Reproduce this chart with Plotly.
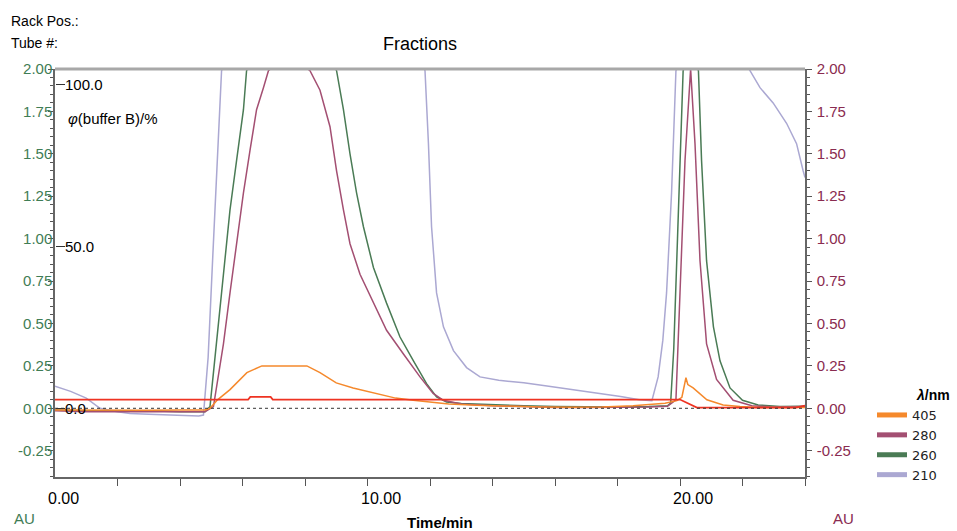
import plotly.graph_objects as go

# ---------------- data ----------------
t_405 = [0, 1, 2, 3, 4, 4.8, 4.96, 5.2, 5.6, 6.14, 6.62, 7.3, 8.06, 8.48, 9.0, 9.54,
         10.2, 10.9, 11.46, 12.0, 12.6, 13.5, 14.5, 15.5, 16.5, 17.5, 18.5, 19.0,
         19.52, 19.9, 20.06, 20.19, 20.25, 20.42, 20.86, 21.38, 21.92, 22.5, 23.2, 24]
v_405 = [-0.01, -0.012, -0.01, -0.012, -0.01, -0.01, 0.0, 0.05, 0.11, 0.21, 0.25, 0.252,
         0.25, 0.21, 0.15, 0.12, 0.09, 0.06, 0.047, 0.035, 0.025, 0.018, 0.012, 0.008,
         0.006, 0.008, 0.015, 0.022, 0.03, 0.045, 0.065, 0.18, 0.14, 0.12, 0.05, 0.02,
         0.01, 0.005, 0.003, 0.004]

t_280 = [0, 1, 2, 3, 4, 4.8, 5.07, 5.39, 5.6, 5.81, 6.03, 6.24, 6.45, 6.67, 6.83, 7.2,
         7.7, 8.16, 8.48, 8.8, 9.01, 9.23, 9.44, 9.76, 10.19, 10.61, 11.15, 11.68, 12.1,
         12.43, 13.0, 14, 15, 16, 17, 18, 19, 19.6, 19.87, 20.0, 20.16, 20.34, 20.48,
         20.64, 20.85, 21.17, 21.7, 22.3, 23, 24]
v_280 = [-0.015, -0.02, -0.02, -0.02, -0.02, -0.02, 0.01, 0.38, 0.68, 0.97, 1.27, 1.52,
         1.76, 1.89, 1.99, 2.05, 2.05, 1.99, 1.875, 1.66, 1.40, 1.17, 0.97, 0.79, 0.62,
         0.46, 0.32, 0.185, 0.088, 0.047, 0.025, 0.015, 0.01, 0.005, 0.005, 0.005, 0.008,
         0.012, 0.05, 0.68, 1.46, 2.0, 1.56, 0.87, 0.38, 0.17, 0.047, 0.015, 0.008, 0.01]

t_260 = [0, 1, 2, 3, 4, 4.8, 4.96, 5.17, 5.39, 5.6, 5.81, 6.03, 6.13, 6.5, 7.5, 8.5,
         9.01, 9.23, 9.44, 9.65, 9.87, 10.19, 10.61, 11.04, 11.47, 11.89, 12.21, 12.53,
         13.0, 14, 15, 16, 17, 18, 19, 19.6, 19.7, 19.8, 19.92, 20.02, 20.1, 20.35,
         20.59, 20.69, 20.85, 21.07, 21.28, 21.6, 22.0, 22.5, 23.2, 24]
v_260 = [-0.01, -0.015, -0.015, -0.015, -0.02, -0.02, 0.01, 0.38, 0.77, 1.17, 1.46, 1.76,
         1.99, 2.1, 2.2, 2.15, 1.99, 1.76, 1.50, 1.27, 1.07, 0.83, 0.62, 0.42, 0.28,
         0.145, 0.067, 0.037, 0.028, 0.02, 0.015, 0.01, 0.008, 0.008, 0.01, 0.015, 0.03,
         0.35, 1.0, 1.6, 1.99, 2.1, 1.99, 1.46, 0.87, 0.48, 0.28, 0.12, 0.047, 0.02,
         0.01, 0.012]

t_210 = [0, 0.5, 1.0, 1.44, 2.0, 2.4, 3.0, 3.6, 4.2, 4.6, 4.75, 4.9, 5.05, 5.2, 5.33,
         6, 8, 10, 11.5, 11.84, 11.95, 12.05, 12.21, 12.43, 12.75, 13.17, 13.6, 14.2,
         15.0, 15.8, 16.6, 17.4, 18.1, 18.7, 19.1, 19.3, 19.45, 19.57, 19.73, 19.87,
         20.5, 21.5, 22.24, 22.56, 22.98, 23.41, 23.73, 23.94, 24]
v_210 = [0.13, 0.10, 0.06, 0.0, -0.02, -0.03, -0.035, -0.04, -0.042, -0.045, -0.04, 0.3,
         0.9, 1.5, 1.99, 2.2, 2.3, 2.3, 2.2, 1.99, 1.56, 1.07, 0.68, 0.48, 0.34, 0.24,
         0.185, 0.165, 0.15, 0.13, 0.11, 0.09, 0.07, 0.05, 0.045, 0.185, 0.4, 0.68,
         1.27, 1.99, 2.2, 2.2, 1.99, 1.89, 1.80, 1.68, 1.56, 1.40, 1.36]

# buffer B fraction (%), red trace on the inner left axis
t_buf = [0, 6.18, 6.25, 6.9, 6.97, 20.0, 20.54, 23.7, 24]
v_buf = [2.7, 2.7, 3.5, 3.5, 2.7, 2.7, 0.2, 0.2, 0.8]

au_ticks = [-0.25, 0.0, 0.25, 0.5, 0.75, 1.0, 1.25, 1.5, 1.75, 2.0]
au_labels = ["-0.25", "0.00", "0.25", "0.50", "0.75", "1.00", "1.25", "1.50", "1.75", "2.00"]
buf_ticks = [0, 50, 100]
buf_labels = ["0.0", "50.0", "100.0"]
x_ticks = [0, 2, 4, 6, 8, 10, 12, 14, 16, 18, 20, 22, 24]
x_label_vals = [0, 10, 20]
x_labels = ["0.00", "10.00", "20.00"]

AU_RANGE = [-0.405, 2.0]
BUF_PER_AU = 52.36
BASELINE = 0.0

series = [
    ("210", t_210, v_210, "#aba8d2"),
    ("260", t_260, v_260, "#4a7b55"),
    ("280", t_280, v_280, "#a34f72"),
    ("405", t_405, v_405, "#f5892c"),
]
legend_order = ["405", "280", "260", "210"]
colors = {name: c for name, _, _, c in series}

FONT = "Liberation Sans, Arial, sans-serif"
GREEN = "#3f7d55"
MAROON = "#8a2b50"

fig = go.Figure()
for name, t, v, c in series:
    fig.add_trace(go.Scatter(x=t, y=v, mode="lines", name=name, showlegend=False,
                             line=dict(color=c, width=1.5), hoverinfo="skip"))
fig.add_trace(go.Scatter(x=t_buf, y=v_buf, mode="lines", name="buffer B", yaxis="y3",
                         showlegend=False, line=dict(color="#ee3322", width=1.8)))
# legend entries (thick swatches)
for name in legend_order:
    fig.add_trace(go.Scatter(x=[None], y=[None], mode="lines", name=name,
                             line=dict(color=colors[name], width=5)))

axis_common = dict(range=AU_RANGE, tickvals=au_ticks, ticktext=au_labels,
                   showgrid=False, zeroline=False, showline=True,
                   linecolor="#666", linewidth=1.5, ticks="outside", ticklen=5,
                   tickcolor="#555",
                   minor=dict(dtick=0.05, ticks="outside", ticklen=3, tickcolor="#555"))

fig.update_layout(
    width=957, height=531,
    margin=dict(l=55, r=152, t=69, b=54),
    paper_bgcolor="white", plot_bgcolor="white",
    font=dict(family=FONT, size=14, color="black"),
    xaxis=dict(range=[0, 24], tickvals=x_ticks, showticklabels=False, showgrid=False,
               zeroline=False, showline=True, linecolor="#666", linewidth=1.5,
               ticks="outside", ticklen=7, tickcolor="#555"),
    yaxis=dict(**axis_common, side="left", ticklabelstandoff=-7,
               tickfont=dict(size=15, color=GREEN)),
    yaxis2=dict(**axis_common, side="right", overlaying="y", anchor="x",
                ticklabelstandoff=2, tickfont=dict(size=15, color=MAROON)),
    yaxis3=dict(range=[AU_RANGE[0] * BUF_PER_AU, AU_RANGE[1] * BUF_PER_AU],
                overlaying="y", anchor="free", position=0, side="left",
                tickvals=buf_ticks, ticktext=buf_labels, ticks="inside", ticklen=9,
                tickcolor="#333", ticklabelposition="inside", showline=False,
                showgrid=False, zeroline=False, tickfont=dict(size=15, color="black")),
    legend=dict(x=(872 - 55) / 750, xanchor="left", y=(477 - 400) / 408, yanchor="top",
                font=dict(family="DejaVu Sans, sans-serif", size=13, color="#222"),
                tracegroupgap=0, itemwidth=30, bgcolor="rgba(0,0,0,0)"),
    showlegend=True,
)

# dotted zero line and top border
fig.add_shape(type="line", xref="paper", x0=0, x1=1, yref="y", y0=BASELINE, y1=BASELINE,
              line=dict(color="#333", width=1, dash="dot"))
fig.add_shape(type="line", xref="paper", x0=0, x1=1, yref="paper", y0=1, y1=1,
              line=dict(color="#a8a8a8", width=3))

# make the right axis draw (needs data): attach an invisible copy
fig.add_trace(go.Scatter(x=[0], y=[BASELINE], yaxis="y2", mode="markers",
                         marker=dict(opacity=0), showlegend=False, hoverinfo="skip"))


def px(xp):
    return (xp - 55) / 750


def py(yp):
    return (477 - yp) / 408


def note(text, x, y, size=14, color="black", xanchor="left", bold=False):
    fig.add_annotation(text=f"<b>{text}</b>" if bold else text, xref="paper", yref="paper",
                       x=px(x), y=py(y), xanchor=xanchor, yanchor="middle",
                       showarrow=False, font=dict(size=size, color=color, family=FONT))


# x tick labels (left-shifted relative to their ticks, as in the reference)
for val, lab in zip(x_label_vals, x_labels):
    fig.add_annotation(text=lab, xref="x", yref="paper", x=val, y=py(498),
                       xanchor="left", yanchor="middle", xshift=-9, showarrow=False,
                       font=dict(size=16, color="black", family=FONT))

note("Rack Pos.:", 9, 21, 14)
note("Tube #:", 9, 43, 14)
note("Fractions", 420, 44, 18, xanchor="center")
note("<i>φ</i>(buffer B)/%", 66, 118, 15)
note("AU", 24, 518, 15, GREEN, xanchor="center")
note("AU", 843, 518, 15, MAROON, xanchor="center")
note("Time/min", 440, 522, 15, xanchor="center", bold=True)
note("<i>λ</i>/nm", 914, 395, 14, bold=True)

fig.write_html("out.html", config={"displayModeBar": False},
               post_script="document.body.style.margin='0';")
